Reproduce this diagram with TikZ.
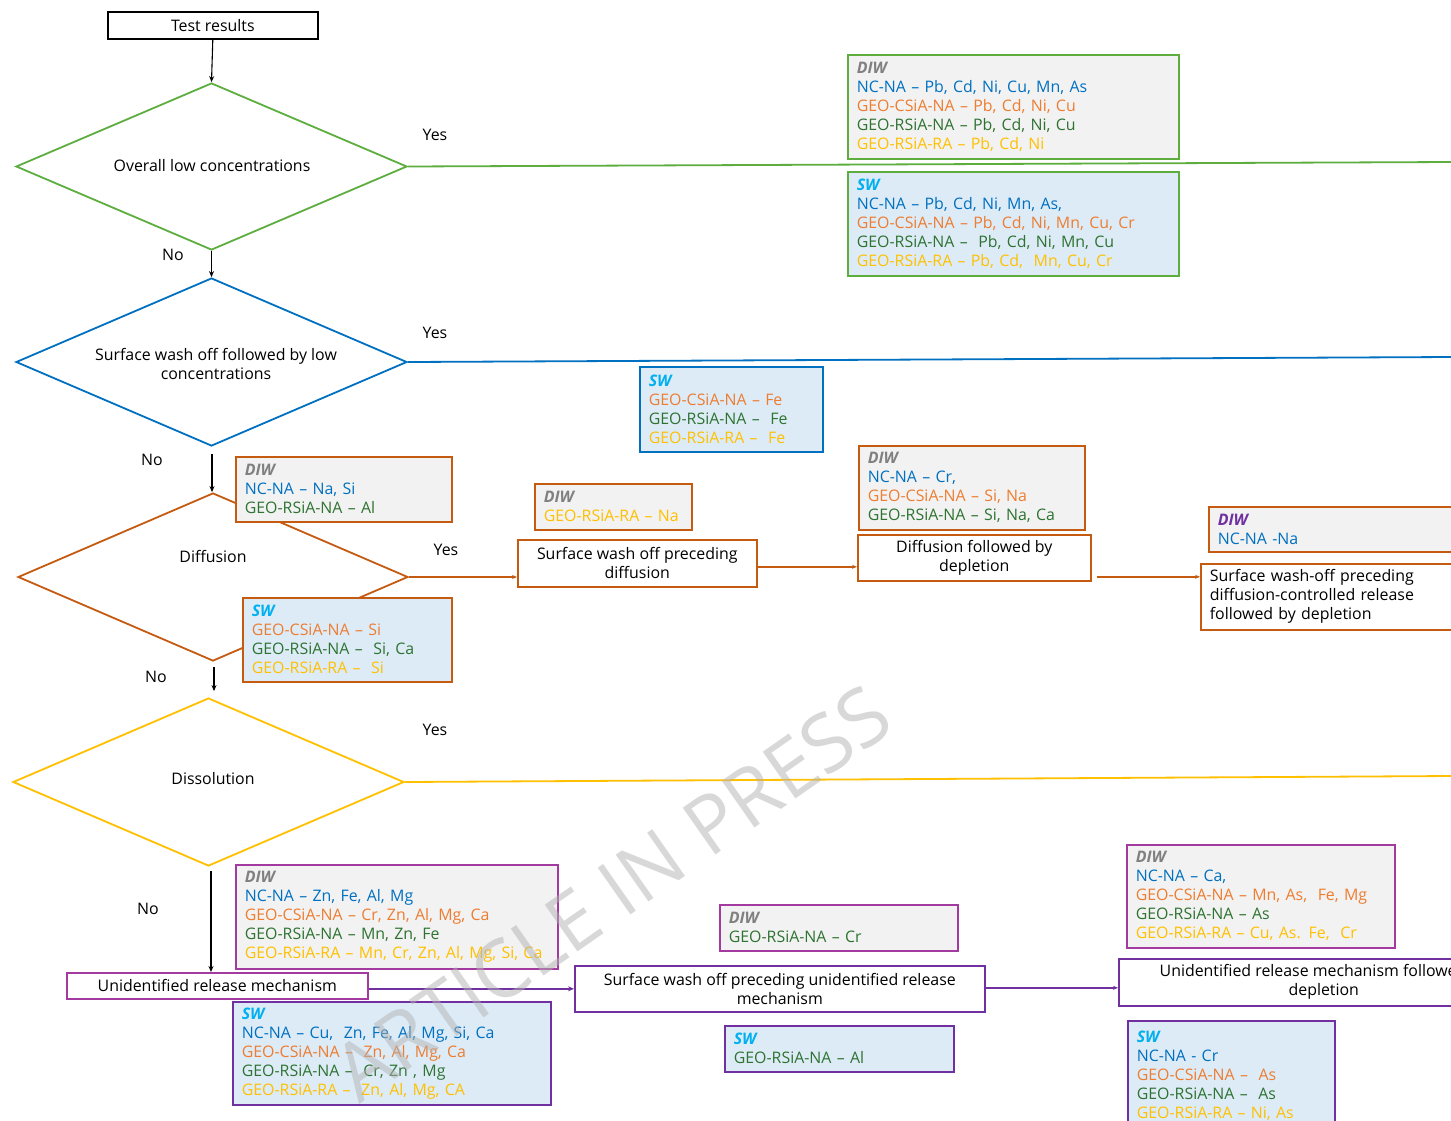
\documentclass[tikz,border=0pt]{standalone}
\usepackage{fontspec}
\setmainfont{Open Sans}
\usetikzlibrary{shapes.geometric,arrows.meta,calc}
\definecolor{cgreen}{HTML}{5DAE3F}
\definecolor{cblue}{HTML}{0070C0}
\definecolor{corange}{HTML}{C55A11}
\definecolor{cgold}{HTML}{FFC000}
\definecolor{cmag}{HTML}{A23AA0}
\definecolor{cpurp}{HTML}{7030A0}
\definecolor{gfill}{HTML}{F2F2F2}
\definecolor{bfill}{HTML}{DDEBF7}
\definecolor{tblue}{HTML}{0070C0}
\definecolor{torange}{HTML}{ED7D31}
\definecolor{tgreen}{HTML}{2E7331}
\definecolor{tgold}{HTML}{FFC000}
\definecolor{tgray}{HTML}{808080}
\definecolor{tsky}{HTML}{00B0F0}
\newcommand{\DIWt}{\textcolor{tgray}{\textbf{\textit{DIW}}}}
\newcommand{\SWt}{\textcolor{tsky}{\textbf{\textit{SW}}}}
\newcommand{\cBl}[1]{\textcolor{tblue}{#1}}
\newcommand{\cOr}[1]{\textcolor{torange}{#1}}
\newcommand{\cGr}[1]{\textcolor{tgreen}{#1}}
\newcommand{\cYe}[1]{\textcolor{tgold}{#1}}
\tikzset{
  txt/.style={font=\fontsize{15.9}{19}\selectfont},
  info/.style={txt, draw, line width=1.6pt, anchor=north west, inner xsep=9pt, inner ysep=3pt, align=left},
  diwbox/.style={info, fill=gfill},
  swbox/.style={info, fill=bfill},
  proc/.style={txt, draw, line width=1.6pt, fill=white, anchor=north west, align=center, inner sep=2pt},
  dec/.style={diamond, draw, line width=1.8pt, inner sep=0pt},
  arr/.style={-{Stealth[length=6pt,width=5pt]}, line width=1.1pt},
  yline/.style={line width=1.8pt},
}
\begin{document}
\begin{tikzpicture}[x=1pt,y=-1pt]
\useasboundingbox (0,0) rectangle (1451,1120);
\clip (0,0) rectangle (1451,1120);
\fill[white] (0,0) rectangle (1451,1120);

% decisions
\node[dec, draw=cgreen, minimum width=391pt, minimum height=167pt] (d1) at (211.5,166.5) {};
\node[txt] (d1t) at (212,166) {Overall low concentrations};
\node[dec, draw=cblue, minimum width=391pt, minimum height=168pt] (d2) at (211.5,362) {};
\node[txt, align=center] (d2t) at (216,364) {Surface wash off followed by low\\concentrations};
\node[dec, draw=corange, minimum width=390pt, minimum height=168pt] (d3) at (213,577) {};
\node[txt] (d3t) at (213,556) {Diffusion};
\node[dec, draw=cgold, minimum width=391pt, minimum height=168pt] (d4) at (208.5,782) {};
\node[txt] (d4t) at (213,779) {Dissolution};

% start
\node[proc, draw=black, minimum width=210pt, minimum height=27pt] (tr) at (107,11) {Test results};

% yes lines to the right edge
\coordinate (e1) at (1451,162);
\coordinate (e2) at (1451,357);
\coordinate (e4) at (1451,776);
\draw[yline, cgreen] (d1.east) -- (e1);
\draw[yline, cblue] (d2.east) -- (e2);
\draw[yline, cgold] (d4.east) -- (e4);

% info boxes
\node[diwbox, draw=cgreen, minimum width=331pt, minimum height=104pt, text width=313pt] (diw1) at (847,54)
 {\DIWt\\\cBl{NC-NA – Pb, Cd, Ni, Cu, Mn, As}\\\cOr{GEO-CSiA-NA – Pb, Cd, Ni, Cu}\\\cGr{GEO-RSiA-NA – Pb, Cd, Ni, Cu}\\\cYe{GEO-RSiA-RA – Pb, Cd, Ni}};
\node[swbox, draw=cgreen, minimum width=331pt, minimum height=104pt, text width=313pt] (sw1) at (847,171)
 {\SWt\\\cBl{NC-NA – Pb, Cd, Ni, Mn, As,}\\\cOr{GEO-CSiA-NA – Pb, Cd, Ni, Mn, Cu, Cr}\\\cGr{GEO-RSiA-NA –\ \ Pb, Cd, Ni, Mn, Cu}\\\cYe{GEO-RSiA-RA – Pb, Cd,\ \ Mn, Cu, Cr}};
\node[swbox, draw=cblue, minimum width=183pt, minimum height=85pt, text width=165pt] (sw2) at (639,366)
 {\SWt\\\cOr{GEO-CSiA-NA – Fe}\\\cGr{GEO-RSiA-NA –\ \ Fe}\\\cYe{GEO-RSiA-RA –\ \ Fe}};
\node[diwbox, draw=corange, minimum width=216pt, minimum height=65pt, text width=198pt] (diw3) at (235,456)
 {\DIWt\\\cBl{NC-NA – Na, Si}\\\cGr{GEO-RSiA-NA – Al}};
\node[swbox, draw=corange, minimum width=209pt, minimum height=84pt, text width=191pt] (sw3) at (242,597)
 {\SWt\\\cOr{GEO-CSiA-NA – Si}\\\cGr{GEO-RSiA-NA –\ \ Si, Ca}\\\cYe{GEO-RSiA-RA –\ \ Si}};
\node[diwbox, draw=corange, minimum width=157pt, minimum height=46pt, text width=139pt] (diw3b) at (534,483)
 {\DIWt\\\cYe{GEO-RSiA-RA – Na}};
\node[diwbox, draw=corange, minimum width=226pt, minimum height=84pt, text width=208pt] (diw3c) at (858,445)
 {\DIWt\\\cBl{NC-NA – Cr,}\\\cOr{GEO-CSiA-NA – Si, Na}\\\cGr{GEO-RSiA-NA – Si, Na, Ca}};
\node[diwbox, draw=corange, minimum width=260pt, minimum height=45pt, text width=242pt] (diw3d) at (1208,506)
 {\textcolor{cpurp}{\textbf{\textit{DIW}}}\\\cBl{NC-NA -Na}};
\node[diwbox, draw=cmag, minimum width=322pt, minimum height=104pt, text width=304pt] (diw4) at (235,864)
 {\DIWt\\\cBl{NC-NA – Zn, Fe, Al, Mg}\\\cOr{GEO-CSiA-NA – Cr, Zn, Al, Mg, Ca}\\\cGr{GEO-RSiA-NA – Mn, Zn, Fe}\\\cYe{GEO-RSiA-RA – Mn, Cr, Zn, Al, Mg, Si, Ca}};
\node[swbox, draw=cpurp, minimum width=318pt, minimum height=103pt, text width=300pt] (sw4) at (232,1001)
 {\SWt\\\cBl{NC-NA – Cu,\ \ Zn, Fe, Al, Mg, Si, Ca}\\\cOr{GEO-CSiA-NA –\ \ Zn, Al, Mg, Ca}\\\cGr{GEO-RSiA-NA –\ \ Cr, Zn , Mg}\\\cYe{GEO-RSiA-RA –\ \ Zn, Al, Mg, CA}};
\node[diwbox, draw=cmag, minimum width=238pt, minimum height=46pt, text width=220pt] (diw4b) at (719,904)
 {\DIWt\\\cGr{GEO-RSiA-NA – Cr}};
\node[swbox, draw=cpurp, minimum width=229pt, minimum height=46pt, text width=211pt] (sw4b) at (724,1025)
 {\SWt\\\cGr{GEO-RSiA-NA – Al}};
\node[diwbox, draw=cmag, minimum width=268pt, minimum height=103pt, text width=250pt] (diw4c) at (1126,844)
 {\DIWt\\\cBl{NC-NA – Ca,}\\\cOr{GEO-CSiA-NA – Mn, As,\ \ Fe, Mg}\\\cGr{GEO-RSiA-NA – As}\\\cYe{GEO-RSiA-RA – Cu, As. Fe,\ \ Cr}};
\node[swbox, draw=cpurp, minimum width=207pt, minimum height=110pt, text width=189pt] (sw4c) at (1127,1020)
 {\SWt\\\cBl{NC-NA - Cr}\\\cOr{GEO-CSiA-NA –\ \ As}\\\cGr{GEO-RSiA-NA –\ \ As}\\\cYe{GEO-RSiA-RA – Ni, As}};

% process boxes
\node[proc, draw=corange, minimum width=239pt, minimum height=47pt] (p1) at (517,539) {Surface wash off preceding\\diffusion};
\node[proc, draw=corange, minimum width=233pt, minimum height=46pt] (p2) at (857,534) {Diffusion followed by\\depletion};
\node[proc, draw=corange, minimum width=270pt, minimum height=66pt, text width=252pt, align=left, inner xsep=9pt] (p3) at (1200,563) {Surface wash-off preceding\\diffusion-controlled release\\followed by depletion};
\node[proc, draw=cmag, minimum width=301pt, minimum height=26pt] (ur) at (66,972) {Unidentified release mechanism};
\node[proc, draw=cpurp, minimum width=410pt, minimum height=46pt] (p4) at (574,965) {Surface wash off preceding unidentified release\\mechanism};
\node[proc, draw=cpurp, minimum width=410pt, minimum height=47pt] (p5) at (1118,958) {Unidentified release mechanism followed by\\depletion};

% labels
\node[txt] (y1) at (435,135) {Yes};
\node[txt] (n1) at (173,255) {No};
\node[txt] (y2) at (435,333) {Yes};
\node[txt] (n2) at (152,460) {No};
\node[txt] (y3) at (446,550) {Yes};
\node[txt] (n3) at (156,677) {No};
\node[txt] (y4) at (435,730) {Yes};
\node[txt] (n4) at (148,909) {No};

% black connectors
\draw[arr] (tr.south) -- (d1.north);
\draw[arr] (d1.south) -- (d2.north);
\coordinate (c2) at ($(d2.south)+(0.5,7)$);
\draw[arr] (c2) -- (c2 |- d3.north);
\coordinate (c3) at ($(d3.south)+(1,5)$);
\coordinate (c3b) at ($(d4.north)+(0,-6)$);
\draw[arr] (c3) -- (c3 |- c3b);
\coordinate (c4) at ($(d4.south)+(2.5,4)$);
\draw[arr] (c4) -- (c4 |- ur.north);

% orange connectors
\draw[corange, line width=1.6pt, -{Stealth[length=5pt,width=4pt]}] (d3.east) -- (d3.east -| p1.west);
\coordinate (o2) at ($(p1.east)+(0,3.5)$);
\draw[corange, line width=1.4pt, -{Stealth[length=5pt,width=4pt]}] (o2) -- (o2 -| p2.west);
\coordinate (o3) at ($(p2.east)+(5,19)$);
\draw[corange, line width=1.4pt, -{Stealth[length=5pt,width=4pt]}] (o3) -- (o3 -| p3.west);

% purple connectors
\coordinate (u1) at ($(ur.east)+(0,3)$);
\draw[cpurp, line width=1.4pt, -{Stealth[length=6pt,width=5pt]}] (u1) -- (u1 -| p4.west);
\coordinate (u2) at ($(p4.east)+(0,-1)$);
\draw[cpurp, line width=1.4pt, -{Stealth[length=5pt,width=4pt]}] (u2) -- (u2 -| p5.west);

% watermark
\node[rotate=35, text=black!30, opacity=0.5, font=\fontsize{80}{80}\selectfont] (wm) at (612,893) {ARTICLE IN PRESS};
\end{tikzpicture}
\end{document}
